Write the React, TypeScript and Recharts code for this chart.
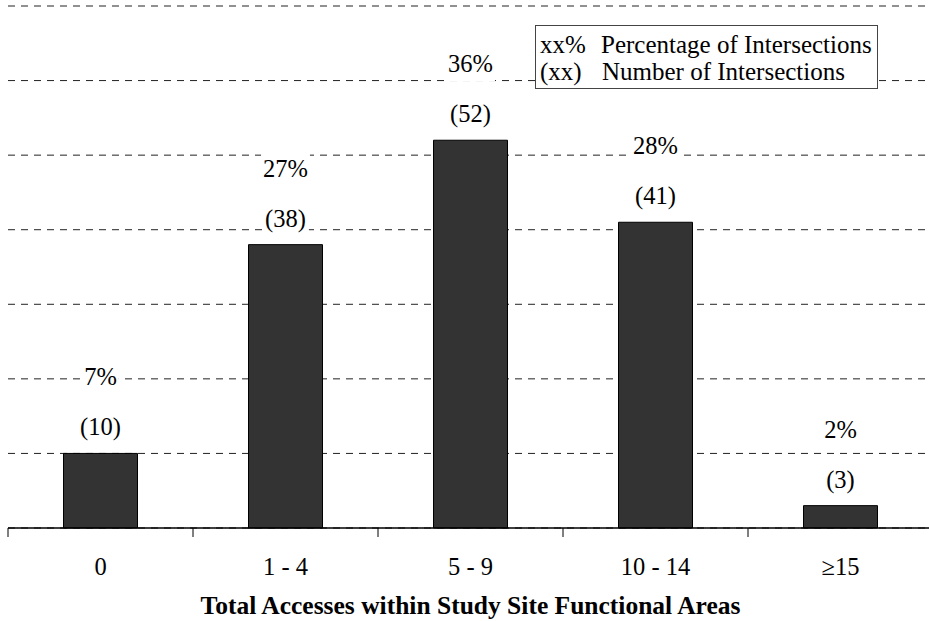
import { BarChart, Bar, XAxis, YAxis, CartesianGrid, LabelList } from 'recharts';

const categories = ['0', '1 - 4', '5 - 9', '10 - 14', '≥15'];
const counts = [10, 38, 52, 41, 3];
const percents = [7, 27, 36, 28, 2];
const yTicks = [0, 10, 20, 30, 40, 50, 60, 70];
const legendKeys = ['xx%', '(xx)'];
const legendLabels = ['Percentage of Intersections', 'Number of Intersections'];
const xTitle = 'Total Accesses within Study Site Functional Areas';

const data = categories.map((name, i) => ({ name, count: counts[i], pct: percents[i] }));

const FONT = 'Liberation Serif';
const FS = 24.5;

// rough Times widths, used only to size the white box behind a label
const textWidth = (s: string) =>
  s.split('').reduce((w, c) => w + (c === '%' ? 0.833 : c === '(' || c === ')' ? 0.333 : 0.5), 0) * FS;

function boxLabel(format: (v: number) => string, lift: number, pad: number) {
  return (props: any) => {
    const { x, y, width, value } = props;
    const text = format(Number(value));
    const cx = Number(x) + Number(width) / 2;
    const base = Number(y) - lift;
    const w = textWidth(text);
    return (
      <g>
        <rect x={cx - w / 2 - pad} y={base - 23} width={w + pad * 2} height={32} fill="#fff" />
        <text x={cx} y={base} textAnchor="middle" style={{ fontFamily: FONT, fontSize: FS }} fill="#000">
          {text}
        </text>
      </g>
    );
  };
}

function CategoryTick(props: any) {
  const { x, y, payload } = props;
  const half = payload?.offset ?? 92.5;
  return (
    <g>
      <line x1={x - half} y1={y} x2={x - half} y2={y + 9} stroke="#000" strokeWidth={1} />
      <text x={x} y={y + 47} textAnchor="middle" style={{ fontFamily: FONT, fontSize: FS }} fill="#000">
        {payload.value}
      </text>
    </g>
  );
}

const NoTick = () => <g />;

export default function App() {
  return (
    <div
      style={{
        position: 'absolute',
        left: 0,
        top: 0,
        width: 929,
        height: 621,
        overflow: 'hidden',
        background: '#fff',
      }}
    >
      <BarChart
        width={933}
        height={621}
        data={data}
        margin={{ top: 6, right: 0, bottom: 0, left: 8 }}
        barCategoryGap="30%"
      >
        <CartesianGrid vertical={false} stroke="#222" strokeDasharray="7 6" />
        <XAxis
          dataKey="name"
          height={93}
          interval={0}
          tickLine={false}
          tickSize={0}
          tickMargin={0}
          axisLine={{ stroke: '#000', strokeWidth: 1.5 }}
          tick={<CategoryTick />}
          label={{
            value: xTitle,
            position: 'insideBottom',
            offset: 7,
            style: { fontFamily: FONT, fontSize: 25.5, fontWeight: 'bold' },
            fill: '#000',
          }}
        />
        <YAxis
          domain={[0, 70]}
          ticks={yTicks}
          interval={0}
          width={0}
          tick={NoTick}
          tickLine={false}
          axisLine={{ stroke: '#000', strokeWidth: 1.5 }}
        />
        <Bar dataKey="count" fill="#333333" stroke="#000" strokeWidth={1} isAnimationActive={false}>
          <LabelList dataKey="count" content={boxLabel((v) => `(${v})`, 18, 3)} />
          <LabelList dataKey="pct" content={boxLabel((v) => `${v}%`, 68, 2)} />
        </Bar>
      </BarChart>
      <div
        style={{
          position: 'absolute',
          left: 535,
          top: 25,
          width: 341,
          height: 57,
          border: '1px solid #444',
          background: '#fff',
          fontFamily: FONT,
          fontSize: 25,
          lineHeight: '27px',
          paddingTop: 5,
          boxSizing: 'content-box',
          color: '#000',
        }}
      >
        {legendKeys.map((k, i) => (
          <div key={k} style={{ display: 'flex', paddingLeft: 4, whiteSpace: 'nowrap' }}>
            <span style={{ width: 61 + i }}>{k}</span>
            <span>{legendLabels[i]}</span>
          </div>
        ))}
      </div>
    </div>
  );
}
